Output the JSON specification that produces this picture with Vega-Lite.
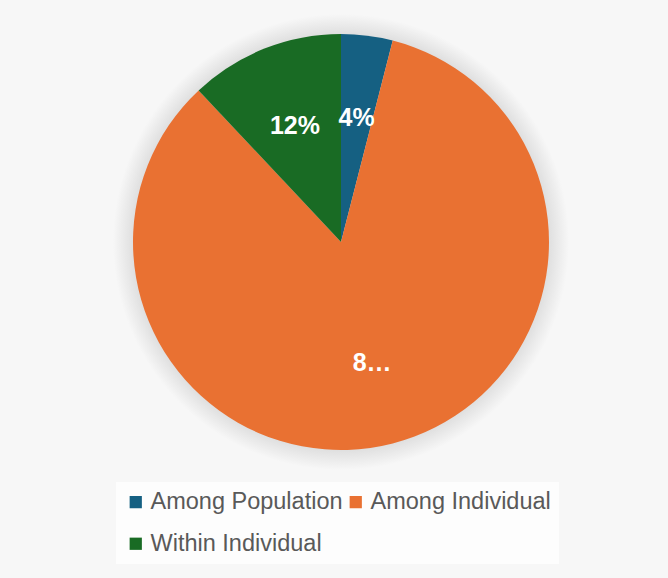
{
  "$schema": "https://vega.github.io/schema/vega-lite/v6.json",
  "autosize": "none",
  "width": 654,
  "height": 470,
  "padding": {"top": 7, "left": 14, "right": 0, "bottom": 101},
  "background": "#f7f7f7",
  "config": {
    "view": {"stroke": null, "fill": "#f7f7f7"},
    "font": "Liberation Sans"
  },
  "data": {
    "values": [
      {"component": "Among Population", "percent": 4, "label": "4%", "order": 1},
      {"component": "Among Individual", "percent": 84, "label": "8…", "order": 2},
      {"component": "Within Individual", "percent": 12, "label": "12%", "order": 3}
    ]
  },
  "layer": [
    {
      "data": {"values": [{"whole": 100}]},
      "mark": {
        "type": "arc",
        "radius": 228,
        "fill": {
          "gradient": "radial",
          "x1": 0.5, "y1": 0.5, "r1": 0,
          "x2": 0.5, "y2": 0.5, "r2": 0.5,
          "stops": [
            {"offset": 0, "color": "#d6d6d6"},
            {"offset": 0.9, "color": "#dcdcdc"},
            {"offset": 1, "color": "#f7f7f7"}
          ]
        }
      },
      "encoding": {
        "theta": {"field": "whole", "type": "quantitative", "scale": {"domain": [0, 100]}}
      }
    },
    {
      "mark": {"type": "arc", "radius": 208},
      "encoding": {
        "theta": {"field": "percent", "type": "quantitative", "stack": true, "scale": {"domain": [0, 100]}},
        "order": {"field": "order", "type": "quantitative"},
        "color": {
          "field": "component",
          "type": "nominal",
          "scale": {
            "domain": ["Among Population", "Among Individual", "Within Individual"],
            "range": ["#156082", "#E97132", "#196B24"]
          },
          "legend": {
            "title": null,
            "orient": "none",
            "legendX": 102,
            "legendY": 475,
            "direction": "horizontal",
            "columns": 2,
            "symbolType": "square",
            "symbolSize": 150,
            "symbolStrokeWidth": 0,
            "labelFontSize": 23.5,
            "labelColor": "#595959",
            "labelFont": "Liberation Sans",
            "labelLimit": 400,
            "rowPadding": 17,
            "columnPadding": 1,
            "labelOffset": 3,
            "fillColor": "#fdfdfd",
            "padding": 8
          }
        }
      }
    },
    {
      "mark": {"type": "text", "radius": 125, "fontSize": 25, "fontWeight": "bold", "color": "white", "font": "Liberation Sans"},
      "encoding": {
        "theta": {"field": "percent", "type": "quantitative", "stack": true, "scale": {"domain": [0, 100]}},
        "order": {"field": "order", "type": "quantitative"},
        "text": {"field": "label", "type": "nominal"}
      }
    }
  ]
}
